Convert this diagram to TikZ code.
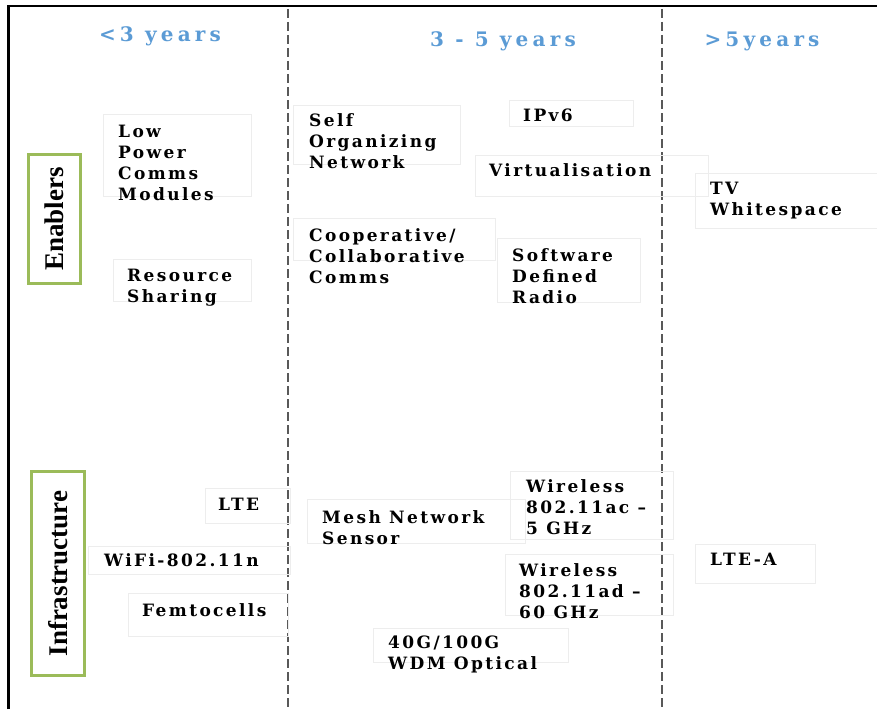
\documentclass[tikz,border=0pt]{standalone}
\usepackage{fontspec}
\newfontfamily\itemfam[LetterSpace=14]{DejaVu Serif}
\newfontfamily\headfam[LetterSpace=21]{DejaVu Serif}
\newfontfamily\rowfam{Liberation Serif}
\usepackage{xcolor}
\definecolor{headblue}{HTML}{5B9BD5}
\definecolor{rowgreen}{HTML}{9BBB59}
\usepackage{tikz}

\tikzset{
  item/.style={anchor=north west, align=left, inner sep=0pt, font=\itemfam\bfseries\fontsize{17}{21}\selectfont},
  era/.style={font=\headfam\bfseries\fontsize{20}{24}\selectfont, text=headblue},
  rowlabel/.style={draw=rowgreen, line width=2.8pt, rotate=90, inner sep=0pt, font=\rowfam\bfseries\fontsize{27}{30}\selectfont},
  faint/.style={draw=black!7, line width=0.6pt},
  divider/.style={black!65, line width=1.4pt, dash pattern=on 9pt off 4pt},
}

\begin{document}
\begin{tikzpicture}[x=1pt, y=-1pt]
\useasboundingbox (0,0) rectangle (877,709);

% Frame and column dividers
\draw[line width=2.5pt] (8.5,709) -- (8.5,6) -- (877,6);
\draw[divider] (288,9) -- (288,709);
\draw[divider] (662,9) -- (662,709);

% Faint text boxes
\foreach \xa/\ya/\xb/\yb in {103/114/251/196, 113/259/251/301, 293/105/460/164, 509/100/633/126,
  475/155/708/196, 293/218/495/260, 497/238/640/302, 695/173/877/228,
  205/488/290/523, 88/546/290/574, 128/593/288/636, 307/499/525/543,
  510/471/673/539, 505/554/673/615, 373/628/568/662, 695/544/815/583}
  \draw[faint] (\xa,\ya) rectangle (\xb,\yb);

% Time horizons
\node[era] (short) at (160,36) {<3 years};
\node[era] (mid) at (503,41) {3 - 5 years};
\node[era] (long) at (762,41) {>5years};

% Row labels
\node[rowlabel, minimum width=129pt, minimum height=52pt] (enablers) at (54.5,219) {Enablers};
\node[rowlabel, minimum width=204pt, minimum height=53pt] (infra) at (58,573.5) {Infrastructure};

% Enablers
\node[item] (lowpower) at (118,125) {Low\\Power\\Comms\\Modules};
\node[item] (resource) at (127,269) {Resource\\Sharing};
\node[item] (son) at (309,113) {Self\\Organizing\\Network};
\node[item] (ipv6) at (523,109) {IPv6};
\node[item] (virt) at (489,163) {Virtualisation};
\node[item] (coop) at (309,228) {Cooperative/\\Collaborative\\Comms};
\node[item] (sdr) at (512,248) {Software\\Defined\\Radio};
\node[item] (tvws) at (710,182) {TV\\Whitespace};

% Infrastructure
\node[item] (lte) at (218,498) {LTE};
\node[item] (wifi) at (104,553) {WiFi-802.11n};
\node[item] (femto) at (142,603) {Femtocells};
\node[item] (mesh) at (322,510) {Mesh Network\\Sensor};
\node[item] (wlanac) at (526,479) {Wireless\\802.11ac –\\5 GHz};
\node[item] (wlanad) at (519,563) {Wireless\\802.11ad –\\60 GHz};
\node[item] (optical) at (388,636) {40G/100G\\WDM Optical};
\node[item] (ltea) at (710,553) {LTE-A};
\end{tikzpicture}
\end{document}
